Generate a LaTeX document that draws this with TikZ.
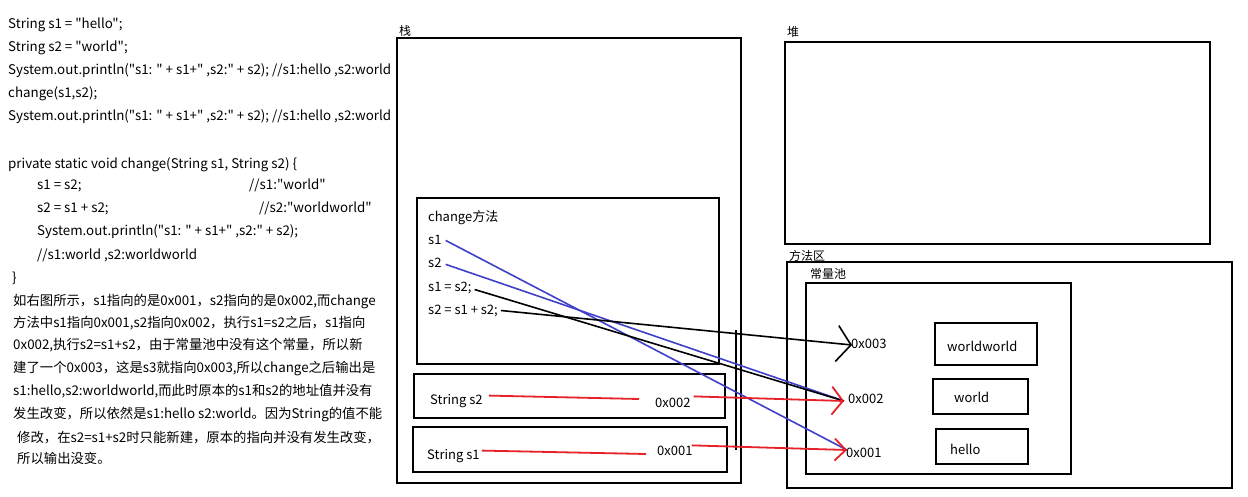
\documentclass[tikz,border=0pt]{standalone}
\usepackage{fontspec}
\setmainfont{Noto Sans CJK SC}[Ligatures=TeXOff]
\usetikzlibrary{arrows.meta}
\definecolor{myblue}{RGB}{64,64,200}
\definecolor{myred}{RGB}{232,32,40}
\begin{document}
\begin{tikzpicture}[x=1pt,y=-1pt,
  box/.style={draw=black, line width=2.2pt},
  txt/.style={anchor=base west, inner sep=0pt, font=\fontsize{13}{13}\selectfont},
  ltxt/.style={anchor=base west, inner sep=0pt, font=\fontsize{13.35}{13}\selectfont},
  lbl/.style={anchor=base west, inner sep=0pt, font=\fontsize{12}{12}\selectfont},
  bl/.style={draw=myblue, line width=1.6pt},
  rd/.style={draw=myred, line width=1.8pt},
  bk/.style={draw=black, line width=1.6pt}]
\useasboundingbox (0,0) rectangle (1248,496);
\fill[white] (0,0) rectangle (1248,496);
% left code
\node[ltxt] (c1) at (8,28) {String s1 = "hello";};
\node[ltxt] (c2) at (8,51) {String s2 = "world";};
\node[ltxt] (c3) at (8,74) {System.out.println("s1: " + s1+" ,s2:" + s2); //s1:hello ,s2:world};
\node[ltxt] (c4) at (8,97) {change(s1,s2);};
\node[ltxt] (c5) at (8,120) {System.out.println("s1: " + s1+" ,s2:" + s2); //s1:hello ,s2:world};
\node[ltxt] (c6) at (8,168) {private static void change(String s1, String s2) \{};
\node[ltxt] (c7) at (37,189) {s1 = s2;};
\node[ltxt] (c7b) at (249,189) {//s1:"world"};
\node[ltxt] (c8) at (37,212) {s2 = s1 + s2;};
\node[ltxt] (c8b) at (259,212) {//s2:"worldworld"};
\node[ltxt] (c9) at (37,235) {System.out.println("s1: " + s1+" ,s2:" + s2);};
\node[ltxt] (c10) at (37,259) {//s1:world ,s2:worldworld};
\node[ltxt] (c11) at (12,282) {\}};
% paragraph
\node[ltxt] (p1) at (13,305) {如右图所示，s1指向的是0x001，s2指向的是0x002,而change};
\node[ltxt] (p2) at (13,327) {方法中s1指向0x001,s2指向0x002，执行s1=s2之后，s1指向};
\node[ltxt] (p3) at (13,349) {0x002,执行s2=s1+s2，由于常量池中没有这个常量，所以新};
\node[ltxt] (p4) at (13,372) {建了一个0x003，这是s3就指向0x003,所以change之后输出是};
\node[ltxt] (p5) at (13,395) {s1:hello,s2:worldworld,而此时原本的s1和s2的地址值并没有};
\node[ltxt] (p6) at (13,418) {发生改变，所以依然是s1:hello s2:world。因为String的值不能};
\node[ltxt] (p7) at (17,442) {修改，在s2=s1+s2时只能新建，原本的指向并没有发生改变，};
\node[ltxt] (p8) at (17,463) {所以输出没变。};
% stack
\node[lbl] (zhan) at (399,35) {栈};
\draw[box] (397,38) rectangle (741,483);
\draw[line width=1.5pt] (736,330) -- (736,450);
\draw[box] (417,198) rectangle (719,364);
\node[txt] (cm) at (428,221) {change方法};
\node[txt] (ms1) at (428,244) {s1};
\node[txt] (ms2) at (428,267) {s2};
\node[txt] (ma) at (428,291) {s1 = s2;};
\node[txt] (mb) at (428,314) {s2 = s1 + s2;};
\draw[box] (414,374) rectangle (725,418);
\node[txt] (ss2) at (430,404) {String s2};
\node[txt] (a2) at (655,407) {0x002};
\draw[box] (413,427) rectangle (727,472);
\node[txt] (ss1) at (427,459) {String s1};
\node[txt] (a1) at (657,455) {0x001};
% heap
\node[lbl] (dui) at (787,36) {堆};
\draw[box] (785,42) rectangle (1210,244);
% method area
\node[lbl] (ffq) at (789,260) {方法区};
\draw[box] (787,262) rectangle (1232,488);
\node[lbl] (clc) at (810,278) {常量池};
\draw[box] (806,283) rectangle (1071,474);
\node[txt] (q3) at (851,348) {0x003};
\node[txt] (q2) at (848,403) {0x002};
\node[txt] (q1) at (846,457) {0x001};
\draw[box] (935,323) rectangle (1037,365);
\node[txt] (ww) at (947,351) {worldworld};
\draw[box] (933,379) rectangle (1028,414);
\node[txt] (w) at (954,402) {world};
\draw[box] (936,429) rectangle (1028,464);
\node[txt] (h) at (950,454) {hello};
% coordinates
\coordinate (t3) at (852,345);
\coordinate (t2) at (844,401);
\coordinate (t1) at (847,450);
\coordinate (e2) at (639,399);
\coordinate (e1) at (646,454);
% connectors
\draw[bl] (ms1.east) ++(4,1) coordinate (b1s) (b1s) -- (t1);
\draw[bl] (ms2.east) ++(4,2) coordinate (b2s) (b2s) -- (t2);
\draw[bk] (ma.east) ++(3,2) coordinate (k1s) (k1s) -- (t2);
\draw[bk, -{Straight Barb[length=14pt,width=36pt]}] (mb.east) ++(3,0) coordinate (k2s) (k2s) -- (t3);
\draw[rd] (ss2.east) ++(6,-5) coordinate (r2s) (r2s) -- (e2);
\draw[rd, -{Straight Barb[length=11pt,width=28pt]}] (a2.east) ++(3,-6) coordinate (r2b) (r2b) -- (t2);
\draw[rd] (ss1.east) ++(2,-5) coordinate (r1s) (r1s) -- (e1);
\draw[rd, -{Straight Barb[length=11pt,width=22pt]}] (a1.east) ++(-1,-5) coordinate (r1b) (r1b) -- (t1);
\end{tikzpicture}
\end{document}
